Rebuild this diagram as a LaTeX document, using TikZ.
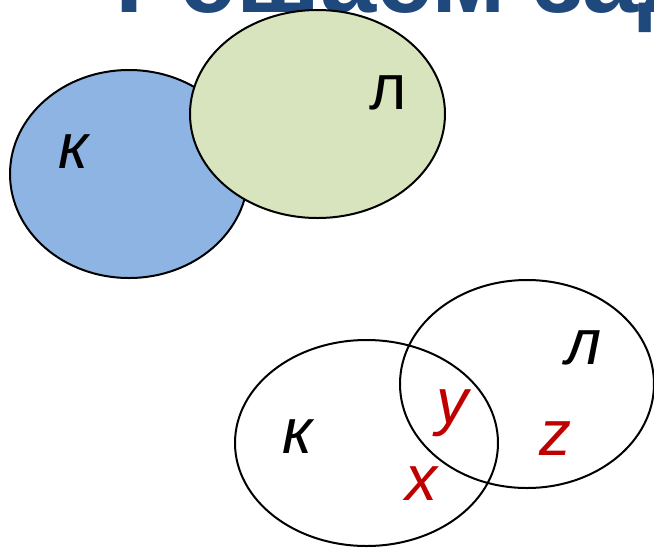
\documentclass[tikz,border=0pt]{standalone}
\usepackage{fontspec}
\setmainfont{Liberation Sans}
\usepackage{xcolor}
\usetikzlibrary{shapes.geometric, positioning}
\definecolor{titleblue}{HTML}{1F497D}
\definecolor{setblue}{HTML}{8EB4E3}
\definecolor{setgreen}{HTML}{D7E4BD}
\definecolor{elred}{HTML}{C00000}

\begin{document}
\begin{tikzpicture}[x=1pt,y=-1pt,inner sep=0pt,outer sep=0pt,
  setshape/.style={ellipse,draw=black,line width=2pt},
  setlabel/.style={anchor=base,font=\fontsize{64}{64}\selectfont\itshape},
  ellabel/.style={setlabel,text=elred}]
\useasboundingbox (0,0) rectangle (654,547);
\clip (0,0) rectangle (654,547);
% title, only its lower edge shows
\node[anchor=base west,text=titleblue,font=\fontsize{101}{101}\selectfont\bfseries] (title) at (115,12) {Решаем задачу};
% upper pair
\node[setshape,fill=setblue,minimum width=238pt,minimum height=208pt] (kTop) at (129,174) {};
\node[setshape,fill=setgreen,minimum width=255pt,minimum height=208pt] (lTop) at (317.5,114) {};
\node[setlabel] (kTopLab) at (74,168) {к};
\node[setlabel,font=\fontsize{64}{64}\selectfont] (lTopLab) at (388,109) {л};
% lower pair
\node[setshape,minimum width=263pt,minimum height=206pt] (kBot) at (366.5,443) {};
\node[setshape,minimum width=254pt,minimum height=208pt] (lBot) at (527,384) {};
\node[setlabel] (kBotLab) at (298,453) {к};
\node[setlabel] (lBotLab) at (584,364) {л};
\node[ellabel] (xLab) at (421,500) {x};
\node[ellabel] (yLab) at (452,423) {y};
\node[ellabel] (zLab) at (555,455) {z};
\end{tikzpicture}
\end{document}
